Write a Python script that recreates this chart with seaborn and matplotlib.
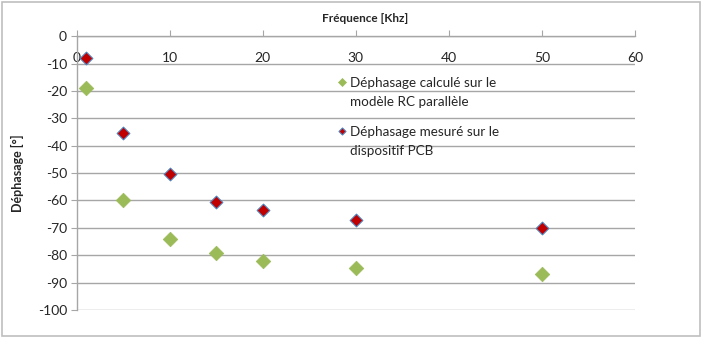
import numpy as np
import pandas as pd
import matplotlib as mpl
mpl.use("Agg")
import matplotlib.pyplot as plt
from matplotlib.patches import Rectangle
import seaborn as sns

# données
freq = [1, 5, 10, 15, 20, 30, 50]
phase_calc = [-19, -60, -74, -79.3, -82, -84.5, -86.7]
phase_mes = [-8, -35.5, -50.5, -60.6, -63.4, -67, -70.2]

lbl_calc = "Déphasage calculé sur le\nmodèle RC parallèle"
lbl_mes = "Déphasage mesuré sur le\ndispositif PCB"
x_ticks = [0, 10, 20, 30, 40, 50, 60]
y_ticks = list(range(0, -101, -10))

df_calc = pd.DataFrame({"f": freq, "phi": phase_calc})
df_mes = pd.DataFrame({"f": freq, "phi": phase_mes})

sns.set_style("white")
plt.rcParams['font.family'] = ['Lato', 'DejaVu Sans']

fig = plt.figure(figsize=(7.04, 3.38), dpi=100)
ax = fig.add_axes([0.109, 0.083, 0.793, 0.810])

grid_col = "#a6a6a6"
for y in y_ticks:
    ax.axhline(y, color=grid_col, lw=1, zorder=0)

sns.scatterplot(data=df_calc, x="f", y="phi", marker="D", s=55, color="#9BBB59",
                edgecolor="#9BBB59", linewidth=0.5, label=lbl_calc, ax=ax, zorder=3)
sns.scatterplot(data=df_mes, x="f", y="phi", marker="D", s=42, color="#C00000",
                edgecolor="#4F81BD", linewidth=0.8, label=lbl_mes, ax=ax, zorder=4)

ax.set_xlim(0, 60)
ax.set_ylim(-100, 0)
ax.set_xticks(x_ticks)
ax.set_yticks(y_ticks)
ax.set_xticklabels([str(v) for v in x_ticks])
ax.set_yticklabels([str(v) for v in y_ticks])

for side in ["right", "bottom"]:
    ax.spines[side].set_visible(False)
for side in ["left", "top"]:
    ax.spines[side].set_color(grid_col)
    ax.spines[side].set_linewidth(1)

ax.xaxis.tick_top()
ax.tick_params(axis="x", top=True, labeltop=True, bottom=False, labelbottom=False,
               direction="out", length=4, color=grid_col, pad=-24, labelsize=10)
ax.tick_params(axis="y", left=True, direction="out", length=4, color=grid_col,
               pad=3, labelsize=10)

ax.set_xlabel("")
ax.set_ylabel("Déphasage [°]", fontsize=9, fontweight="bold", labelpad=10)
fig.text(0.519, 0.945, "Fréquence [Khz]", ha="center", va="center",
         fontsize=8.5, fontweight="bold")

leg = ax.legend(loc="upper left", bbox_to_anchor=(0.455, 0.87), frameon=False,
                fontsize=9.7, handletextpad=0.2, labelspacing=1.35,
                handlelength=0.8, borderaxespad=0, markerscale=0.55,
                scatterpoints=1, scatteryoffsets=[1.68])
for t in leg.get_texts():
    t.set_linespacing(1.68)

fig.patches.append(Rectangle((0.003, 0.006), 0.992, 0.988, transform=fig.transFigure,
                             fill=False, edgecolor="#bfbfbf", lw=1.2))

fig.savefig("out.png", dpi=100)
